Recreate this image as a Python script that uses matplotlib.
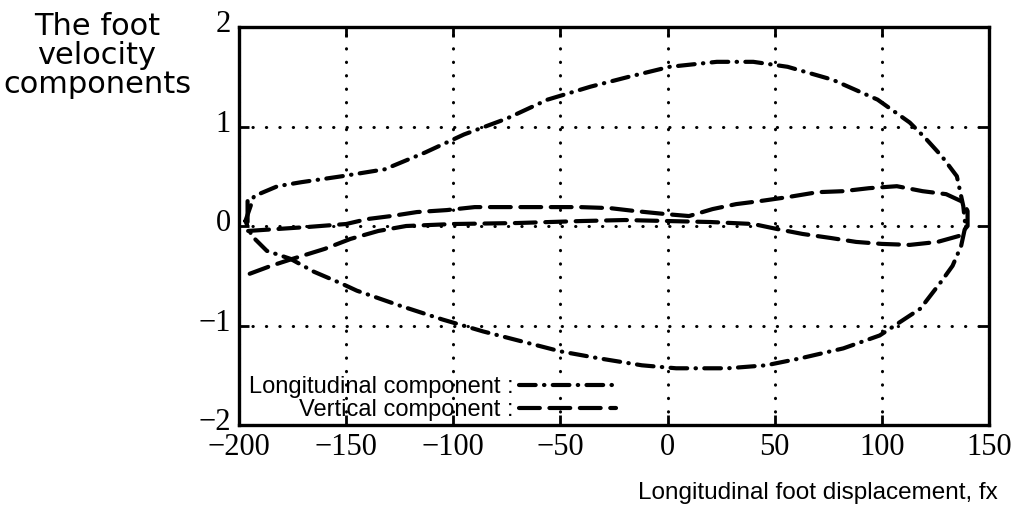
import matplotlib
matplotlib.use("Agg")
import matplotlib.pyplot as plt
import matplotlib.transforms as mtransforms

# longitudinal foot velocity component (dash-dot loop)
long_x = [-197, -193, -182, -171, -152, -132, -113, -95, -75, -56, -36, -18, 1, 23, 40,
          56, 77, 98, 113, 120, 128, 135, 138, 139, 137, 133, 128, 118, 99, 82, 62, 46,
          28, 4, -12, -32, -50, -68, -86, -105, -125, -145, -152, -165, -176, -187, -194, -197]
long_y = [0.05, 0.30, 0.40, 0.44, 0.50, 0.57, 0.74, 0.92, 1.08, 1.27, 1.40, 1.50, 1.60, 1.65, 1.65,
          1.60, 1.47, 1.27, 1.04, 0.89, 0.70, 0.50, 0.20, 0.00, -0.20, -0.40, -0.55, -0.83, -1.10, -1.23, -1.33, -1.40,
          -1.43, -1.43, -1.40, -1.33, -1.26, -1.16, -1.06, -0.94, -0.80, -0.65, -0.58, -0.46, -0.33, -0.25, -0.10, 0.05]

# vertical foot velocity component (dashed loop)
vert_x = [-196, -196, -182, -168, -150, -140, -129, -117, -103, -90, -65, -41, -27, -15, -1, 10,
          21, 32, 43, 56, 70, 82, 94, 107, 119, 130, 138, 140, 140, 136, 126, 113, 100, 88, 76,
          63, 51, 40, 20, 0, -20, -40, -70, -100, -122, -135, -148, -160, -175, -185, -195]
vert_y = [0.25, -0.05, -0.03, -0.01, 0.02, 0.07, 0.10, 0.14, 0.16, 0.19, 0.19, 0.19, 0.18, 0.15, 0.12, 0.10,
          0.17, 0.22, 0.25, 0.29, 0.34, 0.35, 0.38, 0.40, 0.35, 0.32, 0.24, 0.15, 0.00, -0.10, -0.16, -0.19, -0.18, -0.16, -0.12,
          -0.08, -0.03, 0.02, 0.04, 0.05, 0.06, 0.05, 0.03, 0.02, 0.00, -0.05, -0.13, -0.23, -0.33, -0.40, -0.48]

x_ticks = [-200, -150, -100, -50, 0, 50, 100, 150]
y_ticks = [-2, -1, 0, 1, 2]

fig = plt.figure(figsize=(10.29, 5.20), dpi=100)
ax = fig.add_axes([239 / 1029, 1 - 425 / 520, 750 / 1029, 398 / 520])

ax.plot(long_x, long_y, color="black", lw=3, linestyle=(0, (4, 2, 0.1, 2)),
        dash_capstyle="round", label="Longitudinal component :")
ax.plot(vert_x, vert_y, color="black", lw=3, linestyle=(0, (5, 2.3)),
        dash_capstyle="round", label="Vertical component :")

ax.set_xlim(-200, 150)
ax.set_ylim(-2, 2)
ax.set_xticks(x_ticks)
ax.set_yticks(y_ticks)
ax.grid(True, color="black", linestyle=(0, (0.1, 4.3)), linewidth=2.2, dash_capstyle="round")

for sp in ax.spines.values():
    sp.set_linewidth(2.4)
ax.tick_params(direction="in", length=7, width=2, top=True, right=True,
               labelsize=22, pad=6)
for lab in ax.get_xticklabels() + ax.get_yticklabels():
    lab.set_fontfamily("Liberation Serif")

# y tick labels sit a little above their ticks in the original
shift_up = mtransforms.ScaledTranslation(0, 4 / 72, fig.dpi_scale_trans)
for lab in ax.get_yticklabels():
    lab.set_transform(lab.get_transform() + shift_up)

# legend: text right-aligned, line sample after it
leg = ax.legend(loc="lower left", bbox_to_anchor=(0.008, 0.0), markerfirst=False,
                frameon=False, prop={"family": "Liberation Sans", "size": 17},
                handlelength=4.1, handletextpad=0.25, labelspacing=0.05,
                borderaxespad=0.0, borderpad=0.15)

fig.text(97 / 1029, 1 - 12 / 520, "The foot\nvelocity\ncomponents", ha="center", va="top",
         fontsize=22, linespacing=1.0, multialignment="center")
fig.text(818 / 1029, 1 - 499 / 520, "Longitudinal foot displacement, fx", ha="center",
         va="baseline", fontsize=17.5, family="Liberation Sans")

plt.savefig("out.png", dpi=100)
